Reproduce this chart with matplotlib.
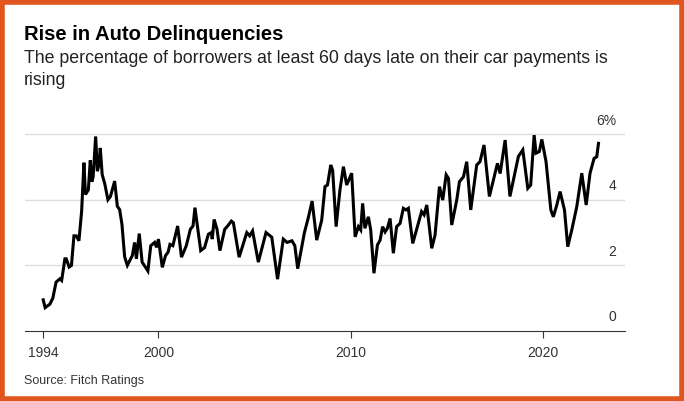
import matplotlib

matplotlib.use("Agg")
import matplotlib.pyplot as plt
from matplotlib.patches import Rectangle

plt.rcParams["font.family"] = ["Liberation Sans", "DejaVu Sans"]

# approximate readings of the Fitch 60+ day auto delinquency rate (%)
years = [
    1994.0, 1994.1, 1994.35, 1994.5, 1994.67, 1994.87, 1994.96, 1995.13, 1995.2, 1995.35,
    1995.47, 1995.6, 1995.72, 1995.86, 1996.0, 1996.12, 1996.2, 1996.35, 1996.45, 1996.53,
    1996.6, 1996.73, 1996.82, 1996.9, 1996.97, 1997.07, 1997.2, 1997.37, 1997.5, 1997.72,
    1997.86, 1997.98, 1998.1, 1998.24, 1998.38, 1998.55, 1998.64, 1998.76, 1998.85, 1999.0,
    1999.15, 1999.45, 1999.6, 1999.8, 1999.9, 2000.0, 2000.2, 2000.37, 2000.5, 2000.6,
    2000.75, 2001.0, 2001.2, 2001.45, 2001.66, 2001.8, 2001.9, 2002.05, 2002.2, 2002.4,
    2002.6, 2002.75, 2002.8, 2002.9, 2003.05, 2003.2, 2003.45, 2003.6, 2003.8, 2003.9,
    2004.2, 2004.6, 2004.75, 2004.9, 2005.2, 2005.6, 2005.9, 2006.2, 2006.5, 2006.7,
    2006.95, 2007.1, 2007.25, 2007.6, 2007.8, 2008.0, 2008.24, 2008.5, 2008.67, 2008.8,
    2008.97, 2009.07, 2009.25, 2009.45, 2009.63, 2009.8, 2010.06, 2010.24, 2010.41, 2010.53,
    2010.63, 2010.75, 2010.93, 2011.05, 2011.22, 2011.4, 2011.54, 2011.67, 2011.8, 2011.92,
    2012.06, 2012.23, 2012.4, 2012.58, 2012.75, 2012.89, 2013.01, 2013.24, 2013.53, 2013.7,
    2013.83, 2013.97, 2014.23, 2014.4, 2014.63, 2014.8, 2014.98, 2015.1, 2015.27, 2015.53,
    2015.67, 2015.88, 2016.05, 2016.26, 2016.57, 2016.74, 2016.95, 2017.23, 2017.44, 2017.65,
    2017.79, 2018.05, 2018.3, 2018.48, 2018.74, 2018.97, 2019.23, 2019.38, 2019.56, 2019.66,
    2019.83, 2019.96, 2020.18, 2020.43, 2020.56, 2020.74, 2020.91, 2021.14, 2021.31, 2021.52,
    2021.78, 2022.04, 2022.27, 2022.47, 2022.68, 2022.82, 2022.91,
]
rates = [
    0.95, 0.71, 0.82, 1.0, 1.49, 1.59, 1.54, 2.2, 2.2, 1.95,
    2.0, 2.9, 2.9, 2.75, 3.65, 5.13, 4.16, 4.3, 5.2, 4.55,
    4.7, 5.93, 4.87, 5.07, 5.58, 4.77, 4.5, 4.0, 4.1, 4.57,
    3.8, 3.7, 3.25, 2.26, 2.0, 2.2, 2.3, 2.7, 2.2, 2.97,
    2.1, 1.83, 2.6, 2.7, 2.55, 2.8, 1.94, 2.3, 2.4, 2.64,
    2.6, 3.2, 2.25, 2.6, 3.1, 3.2, 3.76, 3.1, 2.45, 2.54,
    2.95, 3.0, 2.8, 3.4, 3.1, 2.45, 3.1, 3.2, 3.35, 3.3,
    2.25, 3.0, 2.9, 3.05, 2.1, 3.0, 2.86, 1.58, 2.8, 2.7,
    2.75, 2.6, 1.9, 3.0, 3.45, 3.96, 2.77, 3.38, 4.4, 4.45,
    5.06, 4.9, 3.18, 4.3, 5.01, 4.45, 4.81, 2.87, 3.18, 3.08,
    3.89, 3.13, 3.48, 3.08, 1.76, 2.62, 2.77, 3.18, 3.02, 3.13,
    3.43, 2.37, 3.18, 3.28, 3.74, 3.69, 3.74, 2.67, 3.28, 3.64,
    3.54, 3.84, 2.52, 2.92, 4.4, 3.99, 4.76, 4.65, 3.23, 3.99,
    4.55, 4.7, 5.16, 3.69, 5.06, 5.16, 5.67, 4.1, 4.6, 5.11,
    4.8, 5.82, 4.1, 4.6, 5.32, 5.52, 4.35, 4.45, 5.97, 5.42,
    5.47, 5.84, 5.16, 3.69, 3.48, 3.84, 4.25, 3.69, 2.57, 3.08,
    3.79, 4.81, 3.84, 4.81, 5.26, 5.31, 5.72,
]
x_ticks = [1994, 2000, 2010, 2020]
y_ticks = [0, 2, 4, 6]
y_tick_labels = ["0", "2", "4", "6%"]

fig = plt.figure(figsize=(6.84, 4.01), dpi=100)
ax = fig.add_axes((0.0365, 0.1746, 0.8775, 0.5064))
ax.plot(years, rates, color="black", linewidth=2.2, solid_joinstyle="miter")
ax.set_xlim(1993.05, 2024.3)
ax.set_ylim(0, 6.19)

for value, label in zip(y_ticks, y_tick_labels):
    if value > 0:
        ax.axhline(value, color="#dddddd", linewidth=1.0, zorder=0)
    ax.text(0.985, value + 0.2, label, transform=ax.get_yaxis_transform(),
            ha="right", va="bottom", fontsize=10, color="#333333")

for side in ["top", "right", "left"]:
    ax.spines[side].set_visible(False)
ax.spines["bottom"].set_color("#333333")
ax.set_yticks([])
ax.set_xticks(x_ticks)
ax.set_xticklabels([str(t) for t in x_ticks], fontsize=10, color="#333333")
ax.tick_params(axis="x", length=5, color="#333333", pad=6)

fig.text(0.035, 0.915, "Rise in Auto Delinquencies", fontsize=14.6, fontweight="bold", va="center")
fig.text(0.035, 0.855, "The percentage of borrowers at least 60 days late on their car payments is",
         fontsize=12.8, color="#222222", va="center")
fig.text(0.035, 0.800, "rising", fontsize=12.8, color="#222222", va="center")
fig.text(0.035, 0.050, "Source: Fitch Ratings", fontsize=9, color="#333333", va="center")

fig.patches.append(Rectangle((0.003, 0.005), 0.994, 0.99, transform=fig.transFigure,
                             fill=False, edgecolor="#E0561E", linewidth=4))
fig.savefig("out.png", dpi=100)
